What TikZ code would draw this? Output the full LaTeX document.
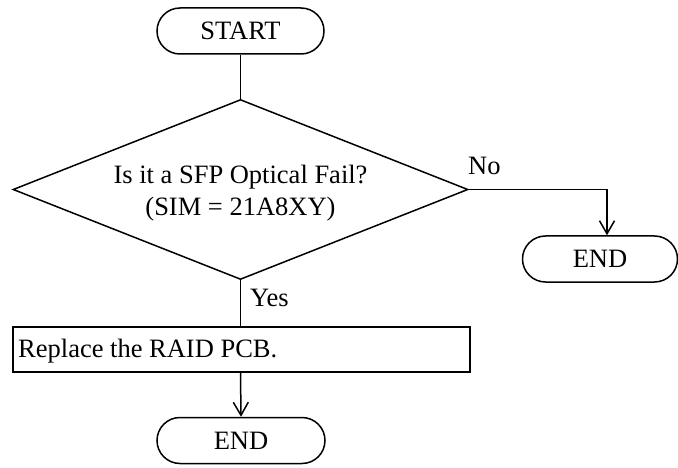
\documentclass[tikz,border=0pt]{standalone}
\usepackage{fontspec}
\setmainfont{Liberation Serif}
\usetikzlibrary{shapes.geometric,shapes.misc,arrows.meta,calc}
\begin{document}
\begin{tikzpicture}[x=1pt,y=-1pt,
  every node/.style={font=\fontsize{26.5pt}{32pt}\selectfont},
  term/.style={draw,line width=1.5pt,rounded rectangle,minimum height=46pt,inner sep=0pt},
  decide/.style={draw,line width=1.5pt,diamond,aspect=2.53,minimum width=455pt,minimum height=180pt,inner sep=0pt,align=center},
  proc/.style={draw,line width=1.5pt,rectangle,minimum width=457pt,minimum height=45pt,inner sep=0pt},
  conn/.style={line width=1.5pt},
  arr/.style={conn,-{Straight Barb[length=13pt,width=15pt,line width=1.5pt]}},
  lbl/.style={inner sep=0pt,anchor=base west}
]
\path[use as bounding box] (0,0) rectangle (678,468);
\node[term,minimum width=167pt] (start) at (240.5,31) {START};
\node[decide] (dec) at (240.5,189.5) {};
\node[align=center,inner sep=0pt,anchor=base] (q) at (240.5,215) {Is it a SFP Optical Fail?\\(SIM = 21A8XY)};
\node[term,minimum width=155pt] (endr) at (600,259) {END};
\node[proc] (rep) at (241.5,349.5) {};
\node[anchor=base west,inner sep=0pt] (reptxt) at (18,357) {Replace the RAID PCB.};
\node[term,minimum width=168pt] (endb) at (241,440.5) {END};
\node[lbl] (no) at (468,175) {No};
\node[lbl] (yes) at (250,306) {Yes};
\coordinate (corner) at (607,189.5);
\draw[conn] (start.south) -- (dec.north);
\draw[arr] (dec.east) -- (corner) -- (corner |- endr.north);
\draw[conn] (dec.south) -- (dec.south |- rep.north);
\draw[arr] (dec.south |- rep.south) -- (endb.north);
\end{tikzpicture}
\end{document}
